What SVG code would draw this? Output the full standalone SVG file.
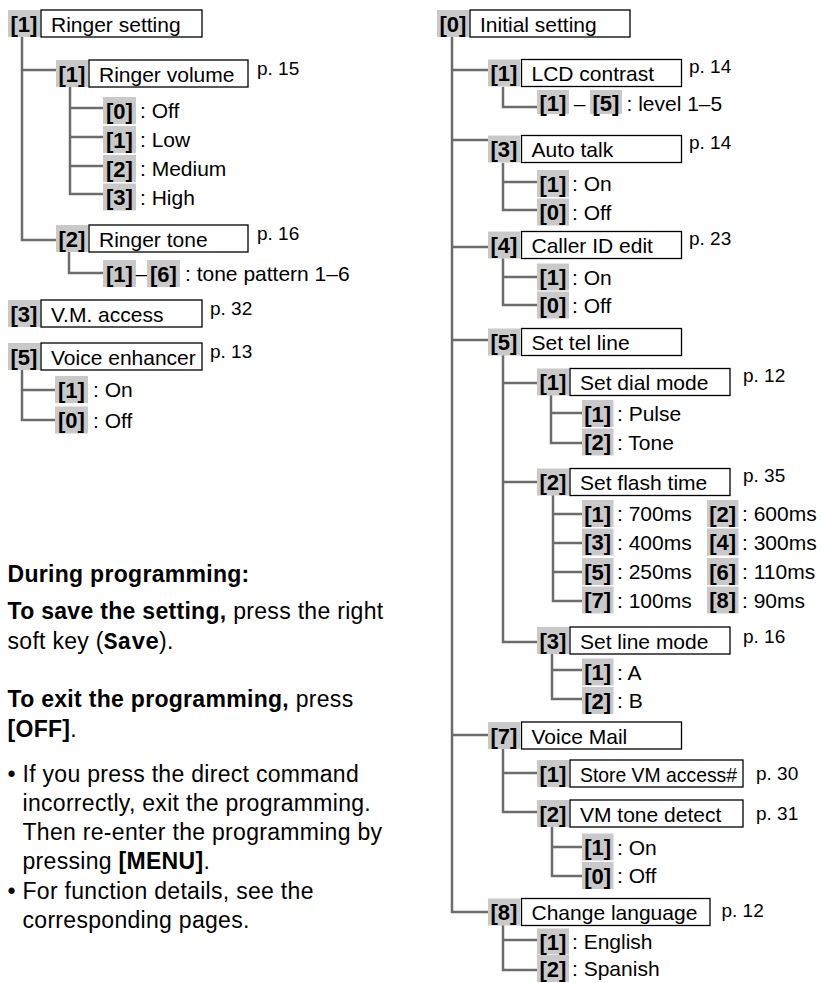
<svg xmlns="http://www.w3.org/2000/svg" width="823" height="983" viewBox="0 0 823 983">
<style>
text{font-family:"Liberation Sans",Arial,Helvetica,sans-serif;font-size:21px;fill:#000}
.k{fill:#c9c9c9}
.b{fill:#fff;stroke:#000;stroke-width:1.3}
.kt{font-weight:bold;text-anchor:middle;font-size:22px}
.p{font-size:19px}
.c{fill:none;stroke:#6c6c6c;stroke-width:2.5}
.body{font-size:23px;letter-spacing:0.3px}
.bd{font-weight:bold}
tspan.mono{font-family:"Liberation Mono","Courier New",monospace;font-weight:bold;letter-spacing:0}
</style>
<rect width="823" height="983" fill="#fff"/>
<g id="connectors">
<path class="c" d="M22 37V240H56M22 70H56"/>
<path class="c" d="M70 87V194H103M70 108H103M70 137H103M70 166H103"/>
<path class="c" d="M69 252V273H103"/>
<path class="c" d="M22 370V420H55M22 390H55"/>
<path class="c" d="M452 37V912H488M452 70H488M452 140H488M452 247H488M452 340H488M452 735H488"/>
<path class="c" d="M503 87V107H537"/>
<path class="c" d="M503 163V210H537M503 182H537"/>
<path class="c" d="M503 258V305H537M503 277H537"/>
<path class="c" d="M503 355V642H537M503 383H537M503 482H537"/>
<path class="c" d="M551 395V443H582M551 413H582"/>
<path class="c" d="M553 495V601H582M553 514H582M553 543H582M553 572H582"/>
<path class="c" d="M552 654V699H582M552 670H582"/>
<path class="c" d="M503 749V812H537M503 773H537"/>
<path class="c" d="M552 827V876H582M552 847H582"/>
<path class="c" d="M503 925V970H537M503 940H537"/>
</g>
<g id="n-ringer-setting"><rect class="k" x="8" y="10" width="32" height="27"/><text class="kt" x="24" y="31.5">[1]</text><rect class="b" x="41" y="10" width="161" height="27"/><text x="51" y="31.5">Ringer setting</text></g>
<g id="n-ringer-volume"><rect class="k" x="56" y="60" width="32" height="27"/><text class="kt" x="72" y="81.5">[1]</text><rect class="b" x="89" y="60" width="159" height="27"/><text x="99" y="81.5">Ringer volume</text><text class="p" x="257" y="75">p. 15</text></g>
<g id="o-rv-0"><rect class="k" x="103" y="97" width="33" height="27"/><text class="kt" x="119.5" y="118.5">[0]</text><text x="140" y="118">: Off</text></g>
<g id="o-rv-1"><rect class="k" x="103" y="126" width="33" height="27"/><text class="kt" x="119.5" y="147.5">[1]</text><text x="140" y="147">: Low</text></g>
<g id="o-rv-2"><rect class="k" x="103" y="155" width="33" height="27"/><text class="kt" x="119.5" y="176.5">[2]</text><text x="140" y="176">: Medium</text></g>
<g id="o-rv-3"><rect class="k" x="103" y="183.5" width="33" height="27"/><text class="kt" x="119.5" y="205">[3]</text><text x="140" y="204.5">: High</text></g>
<g id="n-ringer-tone"><rect class="k" x="56" y="225" width="32" height="27"/><text class="kt" x="72" y="246.5">[2]</text><rect class="b" x="89" y="225" width="159" height="27"/><text x="99" y="246.5">Ringer tone</text><text class="p" x="257" y="240">p. 16</text></g>
<g id="o-rt"><rect class="k" x="103" y="260" width="33" height="27"/><text class="kt" x="119.5" y="281.5">[1]</text><text x="141.5" y="281" text-anchor="middle">–</text><rect class="k" x="147" y="260" width="33" height="27"/><text class="kt" x="163.5" y="281.5">[6]</text><text x="185" y="281">: tone pattern 1–6</text></g>
<g id="n-vm-access"><rect class="k" x="8" y="300" width="32" height="27"/><text class="kt" x="24" y="321.5">[3]</text><rect class="b" x="41" y="300" width="161" height="27"/><text x="51" y="321.5">V.M. access</text><text class="p" x="210" y="315">p. 32</text></g>
<g id="n-voice-enhancer"><rect class="k" x="8" y="343" width="32" height="27"/><text class="kt" x="24" y="364.5">[5]</text><rect class="b" x="41" y="343" width="161" height="27"/><text x="51" y="364.5">Voice enhancer</text><text class="p" x="210" y="358">p. 13</text></g>
<g id="o-ve-1"><rect class="k" x="55" y="376" width="33" height="27"/><text class="kt" x="71.5" y="397.5">[1]</text><text x="93" y="397">: On</text></g>
<g id="o-ve-0"><rect class="k" x="55" y="406.5" width="33" height="27"/><text class="kt" x="71.5" y="428">[0]</text><text x="93" y="427.5">: Off</text></g>

<g id="notes">
<text class="body bd" x="7.5" y="581.5">During programming:</text>
<text class="body" x="7.5" y="618.5"><tspan class="bd">To save the setting,</tspan> press the right</text>
<text class="body" x="7.5" y="648.5">soft key (<tspan class="mono" font-family="Liberation Mono, Courier New, monospace" font-weight="bold">Save</tspan>).</text>
<text class="body" x="7.5" y="706.5"><tspan class="bd">To exit the programming,</tspan> press</text>
<text class="body" x="7.5" y="736.5"><tspan class="bd">[OFF]</tspan>.</text>
<text class="body" x="7.5" y="781.5">•</text>
<text class="body" x="22.5" y="781.5">If you press the direct command</text>
<text class="body" x="22.5" y="810.5">incorrectly, exit the programming.</text>
<text class="body" x="22.5" y="840">Then re-enter the programming by</text>
<text class="body" x="22.5" y="868.5">pressing <tspan class="bd">[MENU]</tspan>.</text>
<text class="body" x="7.5" y="898.5">•</text>
<text class="body" x="22.5" y="898.5">For function details, see the</text>
<text class="body" x="22.5" y="928">corresponding pages.</text>
</g>

<g id="n-initial-setting"><rect class="k" x="437" y="10" width="32" height="27"/><text class="kt" x="453" y="31.5">[0]</text><rect class="b" x="470" y="10" width="160" height="27"/><text x="480" y="31.5">Initial setting</text></g>
<g id="n-lcd-contrast"><rect class="k" x="488" y="59.5" width="32" height="27"/><text class="kt" x="504" y="81">[1]</text><rect class="b" x="521.5" y="59.5" width="160" height="27"/><text x="531.5" y="81">LCD contrast</text><text class="p" x="689" y="73">p. 14</text></g>
<g id="o-lcd"><rect class="k" x="537" y="90" width="32" height="24"/><text class="kt" x="553" y="111">[1]</text><text x="579.5" y="110.5" text-anchor="middle">–</text><rect class="k" x="590" y="90" width="32" height="24"/><text class="kt" x="606" y="111">[5]</text><text x="626.5" y="110.5">: level 1–5</text></g>
<g id="n-auto-talk"><rect class="k" x="488" y="135.5" width="32" height="27"/><text class="kt" x="504" y="157">[3]</text><rect class="b" x="521.5" y="135.5" width="160" height="27"/><text x="531.5" y="157">Auto talk</text><text class="p" x="689" y="148.5">p. 14</text></g>
<g id="o-at-1"><rect class="k" x="537" y="170" width="32" height="27"/><text class="kt" x="553" y="191.5">[1]</text><text x="572" y="191">: On</text></g>
<g id="o-at-0"><rect class="k" x="537" y="198.5" width="32" height="27"/><text class="kt" x="553" y="220">[0]</text><text x="572" y="219.5">: Off</text></g>
<g id="n-caller-id"><rect class="k" x="488" y="231.5" width="32" height="27"/><text class="kt" x="504" y="253">[4]</text><rect class="b" x="521.5" y="231.5" width="160" height="27"/><text x="531.5" y="253">Caller ID edit</text><text class="p" x="689" y="245">p. 23</text></g>
<g id="o-ci-1"><rect class="k" x="537" y="263.5" width="32" height="27"/><text class="kt" x="553" y="285">[1]</text><text x="572" y="284.5">: On</text></g>
<g id="o-ci-0"><rect class="k" x="537" y="291.5" width="32" height="27"/><text class="kt" x="553" y="313">[0]</text><text x="572" y="312.5">: Off</text></g>
<g id="n-set-tel-line"><rect class="k" x="488" y="328.5" width="32" height="27"/><text class="kt" x="504" y="350">[5]</text><rect class="b" x="521.5" y="328.5" width="160" height="27"/><text x="531.5" y="350">Set tel line</text></g>
<g id="n-set-dial-mode"><rect class="k" x="537" y="368.5" width="32" height="27"/><text class="kt" x="553" y="390">[1]</text><rect class="b" x="570" y="368.5" width="160" height="27"/><text x="580" y="390">Set dial mode</text><text class="p" x="743" y="382">p. 12</text></g>
<g id="o-dm-1"><rect class="k" x="582" y="400" width="31.5" height="27"/><text class="kt" x="597.75" y="421.5">[1]</text><text x="617" y="421">: Pulse</text></g>
<g id="o-dm-2"><rect class="k" x="582" y="428.5" width="31.5" height="27"/><text class="kt" x="597.75" y="450">[2]</text><text x="617" y="449.5">: Tone</text></g>
<g id="n-set-flash-time"><rect class="k" x="537" y="468.5" width="32" height="27"/><text class="kt" x="553" y="490">[2]</text><rect class="b" x="570" y="468.5" width="160" height="27"/><text x="580" y="490">Set flash time</text><text class="p" x="743" y="482">p. 35</text></g>
<g id="o-ft-1"><rect class="k" x="582" y="500" width="31.5" height="27"/><text class="kt" x="597.75" y="521.5">[1]</text><text x="617" y="521">: 700ms</text><rect class="k" x="707" y="500" width="31.5" height="27"/><text class="kt" x="722.75" y="521.5">[2]</text><text x="742" y="521">: 600ms</text></g>
<g id="o-ft-2"><rect class="k" x="582" y="528.5" width="31.5" height="27"/><text class="kt" x="597.75" y="550">[3]</text><text x="617" y="549.5">: 400ms</text><rect class="k" x="707" y="528.5" width="31.5" height="27"/><text class="kt" x="722.75" y="550">[4]</text><text x="742" y="549.5">: 300ms</text></g>
<g id="o-ft-3"><rect class="k" x="582" y="558" width="31.5" height="27"/><text class="kt" x="597.75" y="579.5">[5]</text><text x="617" y="579">: 250ms</text><rect class="k" x="707" y="558" width="31.5" height="27"/><text class="kt" x="722.75" y="579.5">[6]</text><text x="742" y="579">: 110ms</text></g>
<g id="o-ft-4"><rect class="k" x="582" y="586.5" width="31.5" height="27"/><text class="kt" x="597.75" y="608">[7]</text><text x="617" y="607.5">: 100ms</text><rect class="k" x="707" y="586.5" width="31.5" height="27"/><text class="kt" x="722.75" y="608">[8]</text><text x="742" y="607.5">: 90ms</text></g>
<g id="n-set-line-mode"><rect class="k" x="537" y="627" width="32" height="27"/><text class="kt" x="553" y="648.5">[3]</text><rect class="b" x="570" y="627" width="160" height="27"/><text x="580" y="648.5">Set line mode</text><text class="p" x="743" y="643">p. 16</text></g>
<g id="o-lm-1"><rect class="k" x="582" y="658.5" width="31.5" height="27"/><text class="kt" x="597.75" y="680">[1]</text><text x="617" y="679.5">: A</text></g>
<g id="o-lm-2"><rect class="k" x="582" y="687" width="31.5" height="27"/><text class="kt" x="597.75" y="708.5">[2]</text><text x="617" y="708">: B</text></g>
<g id="n-voice-mail"><rect class="k" x="488" y="722" width="32" height="27"/><text class="kt" x="504" y="743.5">[7]</text><rect class="b" x="521.5" y="722" width="160" height="27"/><text x="531.5" y="743.5">Voice Mail</text></g>
<g id="n-store-vm"><rect class="k" x="537" y="760" width="32" height="27"/><text class="kt" x="553" y="781.5">[1]</text><rect class="b" x="570" y="760" width="173" height="27"/><text x="580" y="781.5" textLength="157" lengthAdjust="spacingAndGlyphs">Store VM access#</text><text class="p" x="756" y="780">p. 30</text></g>
<g id="n-vm-tone"><rect class="k" x="537" y="800" width="32" height="27"/><text class="kt" x="553" y="821.5">[2]</text><rect class="b" x="570" y="800" width="173" height="27"/><text x="580" y="821.5">VM tone detect</text><text class="p" x="756" y="820">p. 31</text></g>
<g id="o-vt-1"><rect class="k" x="582" y="833.5" width="31.5" height="27"/><text class="kt" x="597.75" y="855">[1]</text><text x="617" y="854.5">: On</text></g>
<g id="o-vt-0"><rect class="k" x="582" y="862" width="31.5" height="27"/><text class="kt" x="597.75" y="883.5">[0]</text><text x="617" y="883">: Off</text></g>
<g id="n-change-language"><rect class="k" x="488" y="898.5" width="32" height="27"/><text class="kt" x="504" y="920">[8]</text><rect class="b" x="521.5" y="898.5" width="188.5" height="27"/><text x="531.5" y="920">Change language</text><text class="p" x="721.5" y="917">p. 12</text></g>
<g id="o-cl-1"><rect class="k" x="537" y="928.5" width="32" height="26"/><text class="kt" x="553" y="949.5">[1]</text><text x="572" y="949">: English</text></g>
<g id="o-cl-2"><rect class="k" x="537" y="955" width="32" height="27"/><text class="kt" x="553" y="976.5">[2]</text><text x="572" y="976">: Spanish</text></g>
</svg>
